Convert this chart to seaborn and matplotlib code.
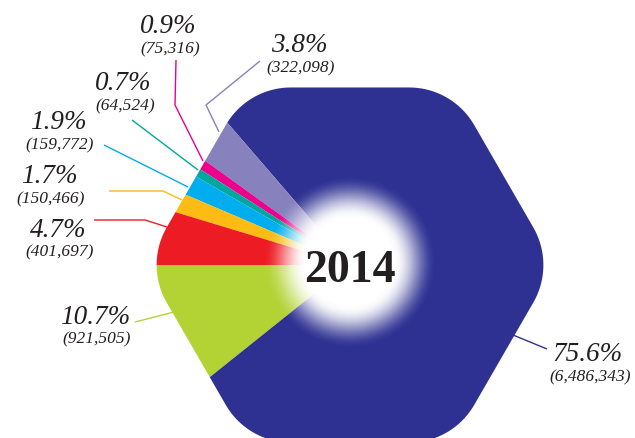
import numpy as np
import matplotlib
matplotlib.use("Agg")
import matplotlib.pyplot as plt
from matplotlib.patches import Polygon
import seaborn as sns

# data, in pie order (counter-clockwise from 9 o'clock)
counts = [921505, 6486343, 322098, 75316, 64524, 159772, 150466, 401697]
percents = ["10.7%", "75.6%", "3.8%", "0.9%", "0.7%", "1.9%", "1.7%", "4.7%"]
colors = ["#B3D335", "#2E3192", "#8781BD", "#EC008C", "#00A79D", "#00AEEF", "#FDBB13", "#ED1C24"]
year = "2014"

# label layout in pixels: centre x, percent baseline, count baseline
label_x = [95, 588, 299, 168, 123, 58, 49, 58]
pct_base = [326, 363, 54, 35, 92, 131, 185, 239]
cnt_base = [342, 380, 71, 52, 109, 148, 202, 255]
leaders = [
    [(135, 323), (174, 313)],
    [(513, 336), (547, 350)],
    [(260, 62), (206, 106), (219, 133)],
    [(176, 61), (175, 106), (203, 162)],
    [(132, 121), (198, 171)],
    [(104, 146), (188, 188)],
    [(109, 192), (163, 192), (182, 201)],
    [(94, 221), (145, 221), (167, 228)],
]

W, H = 635, 439
sns.set_theme(style="white")
plt.rcParams["font.family"] = ["Liberation Serif", "DejaVu Serif"]

fig = plt.figure(figsize=(W / 100, H / 100), dpi=100)
ax = fig.add_axes([0, 0, 1, 1])

cx, cy = 350, H - 266
R, rc = 205, 75


def rounded_hexagon(cx, cy, R, r):
    pts = []
    off = R - r / np.sin(np.pi / 3)
    for k in range(6):
        th = np.deg2rad(60 * k)
        ox, oy = cx + off * np.cos(th), cy + off * np.sin(th)
        phi = np.linspace(th - np.pi / 6, th + np.pi / 6, 20)
        pts.append(np.c_[ox + r * np.cos(phi), oy + r * np.sin(phi)])
    return np.vstack(pts)


hexpatch = Polygon(rounded_hexagon(cx, cy, R, rc), closed=True, facecolor="none", edgecolor="none")
ax.add_patch(hexpatch)

wedges, _ = ax.pie(counts, colors=colors, startangle=180, counterclock=True,
                   radius=320, center=(cx, cy), wedgeprops=dict(linewidth=0))
for w in wedges:
    w.set_clip_on(True)
    w.set_clip_path(hexpatch)

# white radial glow in the middle
n = 300
g = np.linspace(-1, 1, n)
xx, yy = np.meshgrid(g, g)
rr = np.sqrt(xx ** 2 + yy ** 2) * 92
t = np.clip((87 - rr) / (87 - 45), 0, 1)
alpha = t * t * (3 - 2 * t)
img = np.ones((n, n, 4))
img[..., 3] = alpha
ax.imshow(img, extent=[cx - 92, cx + 92, cy + 3 - 92, cy + 3 + 92], zorder=3, interpolation="bilinear")

ax.text(cx, H - 282, year, ha="center", va="baseline", fontsize=33, fontweight="bold",
        color="#231F20", zorder=5)

for pct, c, lx, pb, cb, line, col in zip(percents, counts, label_x, pct_base, cnt_base, leaders, colors):
    xs = [p[0] for p in line]
    ys = [H - p[1] for p in line]
    ax.plot(xs, ys, color=col, lw=1.0, zorder=4, solid_capstyle="butt")
    ax.text(lx, H - pb + 2, pct, ha="center", va="baseline", fontsize=19.5, style="italic",
            color="#231F20", zorder=5)
    ax.text(lx + 2, H - cb - 1, f"({c:,})", ha="center", va="baseline", fontsize=12.5, style="italic",
            color="#231F20", zorder=5)

ax.set_xlim(0, W)
ax.set_ylim(0, H)
ax.set_aspect("equal")
ax.axis("off")

fig.savefig("out.png", dpi=100)
